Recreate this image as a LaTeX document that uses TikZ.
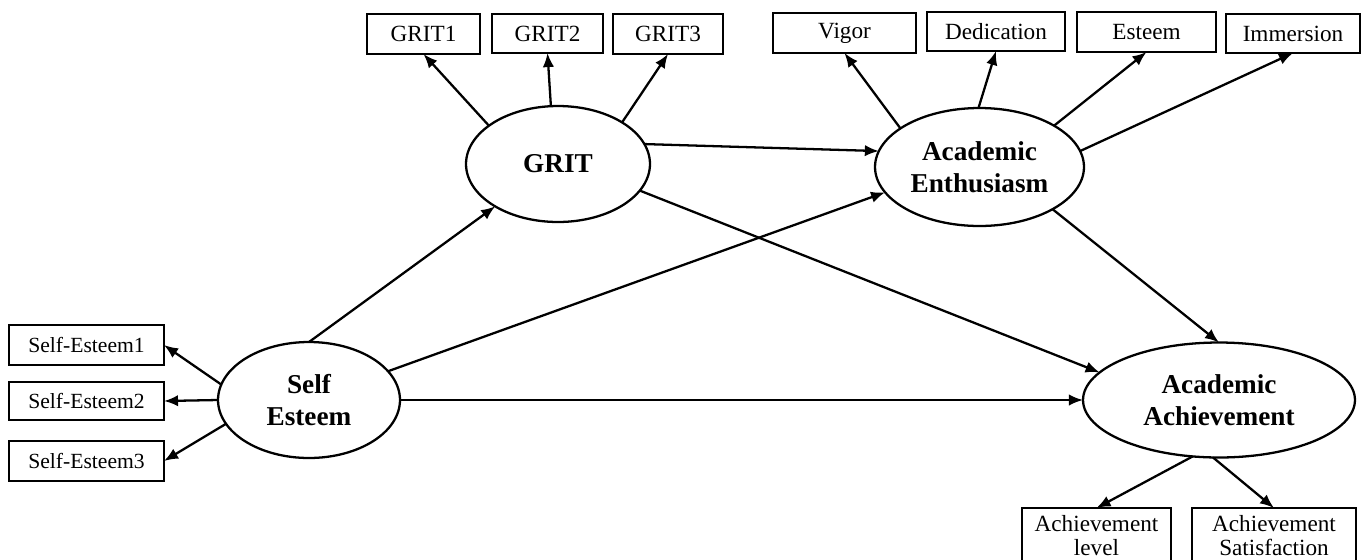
\documentclass[tikz,border=0pt]{standalone}
\usepackage{fontspec}
\setmainfont{Liberation Serif}
\usetikzlibrary{arrows.meta,shapes.geometric}
\begin{document}
\begin{tikzpicture}[x=0.02cm,y=-0.02cm,
  latent/.style={ellipse, draw, line width=1.3pt, inner sep=0pt, outer sep=0pt,
    align=center, font=\fontsize{15.5}{18}\selectfont\bfseries},
  indicator/.style={rectangle, draw, line width=1.3pt, inner sep=0pt, outer sep=0pt,
    align=center, font=\fontsize{13.2}{14}\selectfont, minimum height=0.8cm},
  link/.style={line width=1.3pt, -{Latex[length=8pt,width=6.5pt]}}
]
\useasboundingbox (0,0) rectangle (1370,559);
\clip (0,0) rectangle (1370,559);

% latent constructs
\node[latent, minimum width=3.68cm, minimum height=2.32cm] (grit) at (558,164) {GRIT};
\node[latent, minimum width=4.18cm, minimum height=2.36cm] (ae) at (979.5,167) {Academic\\Enthusiasm};
\node[latent, minimum width=3.64cm, minimum height=2.32cm] (se) at (309,400) {Self\\Esteem};
\node[latent, minimum width=5.44cm, minimum height=2.30cm] (aa) at (1219,400) {Academic\\Achievement};

% GRIT indicators
\node[indicator, minimum width=2.26cm] (grit1) at (423.5,34) {GRIT1};
\node[indicator, minimum width=2.22cm, minimum height=0.78cm] (grit2) at (547.5,33.5) {GRIT2};
\node[indicator, minimum width=2.20cm] (grit3) at (668,34) {GRIT3};

% academic enthusiasm indicators
\node[indicator, minimum width=2.86cm] (vigor) at (844.5,33) {Vigor};
\node[indicator, minimum width=2.76cm, minimum height=0.78cm] (dedic) at (996,31.5) {Dedication};
\node[indicator, minimum width=2.78cm] (esteem) at (1146.5,32) {Esteem};
\node[indicator, minimum width=2.68cm, minimum height=0.78cm] (immers) at (1293,33.5) {Immersion};

% self-esteem indicators
\node[indicator, minimum width=3.1cm, font=\fontsize{12.3}{14}\selectfont] (se1) at (86.5,345) {Self-Esteem1};
\node[indicator, minimum width=3.1cm, minimum height=0.76cm, font=\fontsize{12.3}{14}\selectfont] (se2) at (86.5,401) {Self-Esteem2};
\node[indicator, minimum width=3.1cm, font=\fontsize{12.3}{14}\selectfont] (se3) at (86.5,461) {Self-Esteem3};

% achievement indicators (their lower edge runs past the bottom of the page)
\node[indicator, anchor=north, minimum width=2.98cm, minimum height=1.1cm] (alevel) at (1096.5,508) {Achievement\\level};
\node[indicator, anchor=north, minimum width=3.28cm, minimum height=1.1cm] (asat) at (1274,508) {Achievement\\Satisfaction};

% measurement paths
\draw[link] (grit.151) -- (grit1.south);
\draw[link] (grit.97) -- (grit2.south);
\draw[link] (grit.33) -- (grit3.south);

\draw[link] (ae.154) -- (vigor.south);
\draw[link] (ae.91) -- (dedic.south);
\draw[link] (ae.29) -- (esteem.south);
\draw[link] (ae.9.5) -- (immers.south);

\draw[link] (se.170) -- (se1.east);
\draw[link] (se.west) -- (se2.east);
\draw[link] (se.196) -- (se3.east);

\draw[link] (aa.245) -- (alevel.north);
\draw[link] (aa.264) -- (asat.north);

% structural paths
\draw[link] (se.north) -- (grit.214);
\draw[link] (se.20) -- (ae.195);
\draw[link] (se.east) -- (aa.west);
\draw[link] (grit.13) -- (ae.171);
\draw[link] (grit.-18) -- (aa.167);
\draw[link] (ae.-30) -- (aa.north);
\end{tikzpicture}
\end{document}
